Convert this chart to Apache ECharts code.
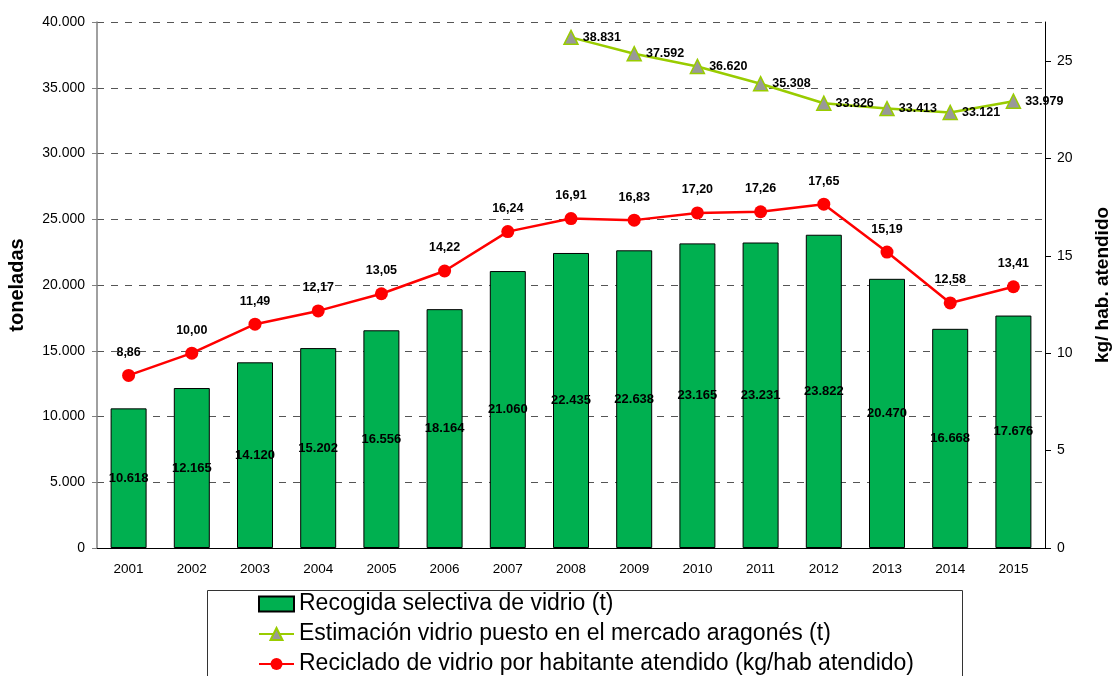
<!DOCTYPE html>
<html>
<head>
<meta charset="utf-8">
<script src="https://cdn.jsdelivr.net/npm/echarts@6/dist/echarts.min.js"></script>
</head>
<body style="margin:0">
<div id="container" style="width:1112px;height:676px"></div>
<script type="text/javascript">
var years = ['2001','2002','2003','2004','2005','2006','2007','2008','2009','2010','2011','2012','2013','2014','2015'];
var recogida = [10618, 12165, 14120, 15202, 16556, 18164, 21060, 22435, 22638, 23165, 23231, 23822, 20470, 16668, 17676];
var mercado = [null, null, null, null, null, null, null, 38831, 37592, 36620, 35308, 33826, 33413, 33121, 33979];
var porHabitante = [8.86, 10.00, 11.49, 12.17, 13.05, 14.22, 16.24, 16.91, 16.83, 17.20, 17.26, 17.65, 15.19, 12.58, 13.41];

var nombres = [
    'Recogida selectiva de vidrio (t)',
    'Estimación vidrio puesto en el mercado aragonés (t)',
    'Reciclado de vidrio por habitante atendido (kg/hab atendido)'
];

function miles(v) {
    return String(Math.round(v)).replace(/\B(?=(\d{3})+(?!\d))/g, '.');
}

var dom = document.getElementById('container');
var myChart = echarts.init(dom);

var font = 'Liberation Sans, Arial, sans-serif';

option = {
    backgroundColor: '#fff',
    textStyle: { fontFamily: font },
    animation: false,
    grid: { left: 97, right: 67, top: 22, bottom: 128, containLabel: false, outerBoundsMode: 'none' },
    graphic: [{
        type: 'rect',
        left: 207, top: 590,
        shape: { width: 755, height: 100 },
        style: { fill: '#fff', stroke: '#333', lineWidth: 1 },
        z: 0
    }],
    legend: {
        orient: 'vertical',
        left: 258,
        top: 592,
        height: 100,
        padding: 0,
        itemWidth: 35,
        itemHeight: 15,
        itemGap: 6,
        textStyle: { fontSize: 23, color: '#000', lineHeight: 24, fontFamily: font },
        data: [
            { name: nombres[0], icon: 'rect' },
            { name: nombres[1] },
            { name: nombres[2] }
        ]
    },
    xAxis: {
        type: 'category',
        data: years,
        axisLine: { lineStyle: { color: '#000' } },
        axisTick: { length: 6, lineStyle: { color: '#000' } },
        axisLabel: { color: '#000', fontSize: 13.5, margin: 14 }
    },
    yAxis: [{
        type: 'value',
        min: 0, max: 40000, interval: 5000,
        name: 'toneladas',
        nameLocation: 'middle',
        nameGap: 70,
        nameTextStyle: { fontSize: 20, fontWeight: 'bold', color: '#000' },
        axisLine: { show: true, lineStyle: { color: '#808080', width: 1.5 } },
        axisTick: { show: true, length: 5, lineStyle: { color: '#808080' } },
        axisLabel: { color: '#000', fontSize: 14, margin: 12, formatter: miles },
        splitLine: { lineStyle: { color: '#555', type: [7, 7], width: 1 } }
    }, {
        type: 'value',
        min: 0, max: 27, interval: 5,
        position: 'right',
        name: 'kg/ hab. atendido',
        nameLocation: 'middle',
        nameGap: 48,
        nameRotate: 90,
        nameTextStyle: { fontSize: 19, fontWeight: 'bold', color: '#000' },
        axisLine: { show: true, lineStyle: { color: '#000' } },
        axisTick: { show: true, length: 6, lineStyle: { color: '#000' } },
        axisLabel: { color: '#000', fontSize: 14, margin: 12, showMaxLabel: false },
        splitLine: { show: false }
    }],
    series: [{
        name: nombres[0],
        type: 'bar',
        yAxisIndex: 0,
        barWidth: 36,
        data: recogida,
        itemStyle: { color: '#00b050', borderColor: '#000', borderWidth: 1 },
        label: {
            show: true,
            position: 'inside',
            color: '#000',
            fontSize: 13,
            fontWeight: 'bold',
            formatter: function (p) { return miles(p.value); }
        }
    }, {
        name: nombres[1],
        type: 'line',
        yAxisIndex: 0,
        data: mercado,
        symbol: 'triangle',
        symbolSize: 14,
        lineStyle: { color: '#99cc00', width: 2.5 },
        itemStyle: { color: '#999999', borderColor: '#99cc00', borderWidth: 1.5 },
        label: {
            show: true,
            position: 'right',
            distance: 4,
            color: '#000',
            fontSize: 12.5,
            fontWeight: 'bold',
            formatter: function (p) { return miles(p.value); }
        },
        z: 3
    }, {
        name: nombres[2],
        type: 'line',
        yAxisIndex: 1,
        data: porHabitante,
        symbol: 'circle',
        symbolSize: 13,
        lineStyle: { color: '#ff0000', width: 2.5 },
        itemStyle: { color: '#ff0000' },
        label: {
            show: true,
            position: 'top',
            distance: 10,
            color: '#000',
            fontSize: 12.5,
            fontWeight: 'bold',
            formatter: function (p) { return p.value.toFixed(2).replace('.', ','); }
        },
        z: 4
    }]
};

myChart.setOption(option);
</script>
</body>
</html>
